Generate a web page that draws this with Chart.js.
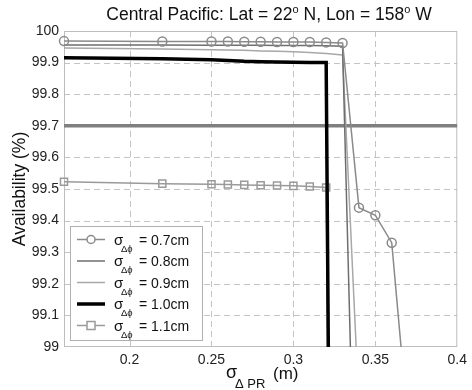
<!DOCTYPE html>
<html>
<head>
<meta charset="utf-8">
<script src="https://cdn.jsdelivr.net/npm/chart.js@4"></script>
<style>
  html, body { margin: 0; padding: 0; background: #fff; }
</style>
</head>
<body>
<canvas id="chart" width="472" height="390"></canvas>
<script>
// data
const x07 = [0.16, 0.22, 0.25, 0.26, 0.27, 0.28, 0.29, 0.30, 0.31, 0.32, 0.33, 0.34, 0.35, 0.36, 0.37];
const y07 = [99.968, 99.967, 99.967, 99.967, 99.966, 99.966, 99.965, 99.965, 99.965, 99.964, 99.962, 99.441, 99.417, 99.330, 98.75];
const x08 = [0.16, 0.22, 0.25, 0.26, 0.27, 0.28, 0.29, 0.30, 0.31, 0.32, 0.33, 0.34];
const y08 = [99.956, 99.956, 99.955, 99.955, 99.955, 99.955, 99.954, 99.954, 99.954, 99.953, 99.952, 97.96];
const x09 = [0.16, 0.22, 0.25, 0.26, 0.27, 0.28, 0.29, 0.30, 0.31, 0.32, 0.33, 0.34];
const y09 = [99.946, 99.943, 99.941, 99.940, 99.939, 99.937, 99.936, 99.934, 99.932, 99.929, 99.924, 98.81];
const x10 = [0.16, 0.22, 0.25, 0.26, 0.27, 0.28, 0.29, 0.30, 0.31, 0.32, 0.33];
const y10 = [99.915, 99.912, 99.909, 99.907, 99.904, 99.903, 99.902, 99.901, 99.900, 99.900, 93.0];
const x11 = [0.16, 0.22, 0.25, 0.26, 0.27, 0.28, 0.29, 0.30, 0.31, 0.32, 0.33];
const y11 = [99.523, 99.517, 99.515, 99.514, 99.513, 99.512, 99.511, 99.510, 99.508, 99.505, 93.0];
const thresholdX = [0.16, 0.4];
const thresholdY = [99.7, 99.7];

const seriesNames = ['= 0.7cm', '= 0.8cm', '= 0.9cm', '= 1.0cm', '= 1.1cm'];
const xTicks = [0.2, 0.25, 0.3, 0.35, 0.4];
const xTickLabels = ['0.2', '0.25', '0.3', '0.35', '0.4'];
const yTicks = [99, 99.1, 99.2, 99.3, 99.4, 99.5, 99.6, 99.7, 99.8, 99.9, 100];
const yTickLabels = ['99', '99.1', '99.2', '99.3', '99.4', '99.5', '99.6', '99.7', '99.8', '99.9', '100'];

const FONT = '"Liberation Sans", Arial, sans-serif';

function pts(xs, ys) {
    return xs.map((x, i) => ({ x: x, y: ys[i] }));
}

const styles = [
    { color: '#8a8a8a', width: 1.5, marker: 'circle' },
    { color: '#6e6e6e', width: 1.5, marker: false },
    { color: '#a8a8a8', width: 1.5, marker: false },
    { color: '#000000', width: 3.5, marker: false },
    { color: '#9a9a9a', width: 1.5, marker: 'rect' }
];

const clipBox = { left: 7, top: 7, right: 7, bottom: 0 };

function makeSet(xs, ys, st, order) {
    return {
        data: pts(xs, ys),
        borderColor: st.color,
        borderWidth: st.width,
        pointStyle: st.marker || 'circle',
        pointRadius: st.marker ? (st.marker === 'rect' ? 5 : 4.5) : 0,
        pointBorderColor: st.color,
        pointBackgroundColor: 'rgba(255,255,255,0)',
        pointBorderWidth: 1.5,
        tension: 0,
        clip: clipBox,
        order: order
    };
}

// dashed grid, frame, title, axis labels and legend
const decor = {
    id: 'decor',
    beforeDatasetsDraw(chart) {
        const ctx = chart.ctx, a = chart.chartArea;
        const sx = chart.scales.x, sy = chart.scales.y;
        ctx.save();
        ctx.strokeStyle = '#c4c4c4';
        ctx.lineWidth = 1;
        ctx.setLineDash([6, 4]);
        xTicks.forEach(v => {
            const px = Math.round(sx.getPixelForValue(v)) + 0.5;
            if (px > a.right - 2) return;
            ctx.beginPath();
            ctx.moveTo(px, a.bottom);
            ctx.lineTo(px, a.top);
            ctx.stroke();
        });
        yTicks.forEach(v => {
            const py = Math.round(sy.getPixelForValue(v)) + 0.5;
            if (py < a.top + 2 || py > a.bottom - 2) return;
            ctx.beginPath();
            ctx.moveTo(a.left, py);
            ctx.lineTo(a.right, py);
            ctx.stroke();
        });
        ctx.setLineDash([]);
        ctx.strokeStyle = '#bdbdbd';
        ctx.strokeRect(a.left + 0.5, a.top + 0.5, a.right - a.left - 1, a.bottom - a.top - 1);
        ctx.restore();
    },
    afterDraw(chart) {
        const ctx = chart.ctx;
        ctx.save();
        ctx.fillStyle = '#111';
        ctx.textBaseline = 'alphabetic';

        // title with superscript degree "o"
        const tParts = [['Central Pacific: Lat = 22', 0], ['o', 1], [' N, Lon = 158', 0], ['o', 1], [' W', 0]];
        let tw = 0;
        tParts.forEach(p => {
            ctx.font = (p[1] ? '11px ' : '17.5px ') + FONT;
            tw += ctx.measureText(p[0]).width;
        });
        let tx = 269 - tw / 2;
        tParts.forEach(p => {
            ctx.font = (p[1] ? '11px ' : '17.5px ') + FONT;
            ctx.textAlign = 'left';
            ctx.fillText(p[0], tx, p[1] ? 13 : 20);
            tx += ctx.measureText(p[0]).width;
        });

        // y axis title
        ctx.save();
        ctx.translate(25, 189);
        ctx.rotate(-Math.PI / 2);
        ctx.font = '17.5px ' + FONT;
        ctx.textAlign = 'center';
        ctx.fillText('Availability (%)', 0, 0);
        ctx.restore();

        // x axis title: sigma with subscript
        ctx.textAlign = 'left';
        ctx.font = '18px ' + FONT;
        ctx.fillText('σ', 226, 378);
        ctx.font = '13px ' + FONT;
        ctx.fillText('Δ PR', 235, 388);
        ctx.font = '17px ' + FONT;
        ctx.fillText('(m)', 273, 379);

        // legend box
        const bx = 70, by = 226, bw = 132, bh = 114;
        ctx.fillStyle = '#fff';
        ctx.fillRect(bx, by, bw, bh);
        ctx.strokeStyle = '#b0b0b0';
        ctx.lineWidth = 1;
        ctx.strokeRect(bx + 0.5, by + 0.5, bw, bh);

        seriesNames.forEach((name, i) => {
            const st = styles[i];
            const ly = 239.5 + i * 21.5;
            ctx.strokeStyle = st.color;
            ctx.lineWidth = st.width;
            ctx.beginPath();
            ctx.moveTo(77, ly);
            ctx.lineTo(105, ly);
            ctx.stroke();
            ctx.lineWidth = 1.5;
            if (st.marker === 'circle') {
                ctx.fillStyle = '#fff';
                ctx.beginPath();
                ctx.arc(91, ly, 4, 0, Math.PI * 2);
                ctx.fill();
                ctx.stroke();
            } else if (st.marker === 'rect') {
                ctx.fillStyle = '#fff';
                ctx.fillRect(87, ly - 4, 8, 8);
                ctx.strokeRect(87, ly - 4, 8, 8);
            }
            ctx.fillStyle = '#111';
            ctx.font = '15px ' + FONT;
            ctx.fillText('σ', 114, ly + 5);
            ctx.font = '9.5px ' + FONT;
            ctx.fillText('Δϕ', 121, ly + 12);
            ctx.font = '14px ' + FONT;
            ctx.fillText(name, 139, ly + 5);
        });
        ctx.restore();
    }
};

const ctx = document.getElementById('chart').getContext('2d');

new Chart(ctx, {
    type: 'line',
    data: {
        datasets: [
            makeSet(x07, y07, styles[0], 1),
            makeSet(x08, y08, styles[1], 2),
            makeSet(x09, y09, styles[2], 3),
            makeSet(x10, y10, styles[3], 4),
            makeSet(x11, y11, styles[4], 5),
            {
                data: pts(thresholdX, thresholdY),
                borderColor: '#7f7f7f',
                borderWidth: 3.5,
                pointRadius: 0,
                clip: 0,
                order: 6
            }
        ]
    },
    options: {
        responsive: false,
        animation: false,
        layout: { padding: { top: 31, right: 8, left: 0, bottom: 0 } },
        plugins: {
            legend: { display: false },
            title: { display: false },
            tooltip: { enabled: false }
        },
        scales: {
            x: {
                type: 'linear',
                min: 0.16,
                max: 0.4,
                afterBuildTicks: s => { s.ticks = xTicks.map(v => ({ value: v })); },
                afterFit: s => { s.height = 43; },
                ticks: {
                    padding: 5,
                    color: '#222',
                    font: { family: FONT, size: 14 },
                    callback: (v) => xTickLabels[xTicks.findIndex(t => Math.abs(t - v) < 1e-6)]
                },
                grid: { display: false, drawTicks: false },
                border: { display: false }
            },
            y: {
                type: 'linear',
                min: 99,
                max: 100,
                afterBuildTicks: s => { s.ticks = yTicks.map(v => ({ value: v })); },
                afterFit: s => { s.width = 64; },
                ticks: {
                    padding: 5,
                    color: '#222',
                    font: { family: FONT, size: 14 },
                    callback: (v) => yTickLabels[yTicks.findIndex(t => Math.abs(t - v) < 1e-6)]
                },
                grid: { display: false, drawTicks: false },
                border: { display: false }
            }
        }
    },
    plugins: [decor]
});
</script>
</body>
</html>
